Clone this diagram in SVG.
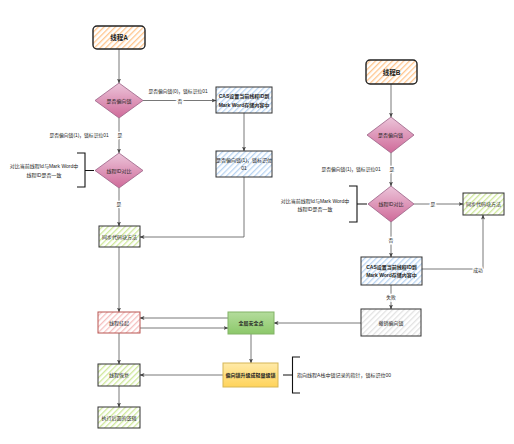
<svg xmlns="http://www.w3.org/2000/svg" width="514" height="444" viewBox="0 0 514 444">
<style>
text{font-family:"Liberation Sans","Noto Sans CJK SC",sans-serif;fill:#222;text-anchor:middle;dominant-baseline:central}
.t{font-size:5px}
.b{font-size:5px;font-weight:bold}
.h{font-size:6.5px;font-weight:bold}
.l{font-size:4.8px}
.lb{font-size:4.8px;stroke:#fff;stroke-width:2.5px;paint-order:stroke}
.c{fill:none;stroke:#555;stroke-width:0.8;marker-end:url(#ar)}
.br{fill:none;stroke:#111;stroke-width:1.1}
.box{stroke:#333;stroke-width:1}
</style>
<defs>
<marker id="ar" markerUnits="userSpaceOnUse" markerWidth="5" markerHeight="5" viewBox="0 0 10 10" refX="9" refY="5" orient="auto"><path d="M0,1 L10,5 L0,9 L2.5,5 Z" fill="#444"/></marker>
<pattern id="hO" patternUnits="userSpaceOnUse" width="4" height="4" patternTransform="rotate(45)"><rect width="4" height="4" fill="#fff"/><rect width="1.3" height="4" fill="#ffc58c"/></pattern>
<pattern id="hB" patternUnits="userSpaceOnUse" width="4" height="4" patternTransform="rotate(45)"><rect width="4" height="4" fill="#fff"/><rect width="1.3" height="4" fill="#b9d4f2"/></pattern>
<pattern id="hG" patternUnits="userSpaceOnUse" width="4" height="4" patternTransform="rotate(45)"><rect width="4" height="4" fill="#fff"/><rect width="1.3" height="4" fill="#cfe89a"/></pattern>
<pattern id="hR" patternUnits="userSpaceOnUse" width="4" height="4" patternTransform="rotate(45)"><rect width="4" height="4" fill="#fff"/><rect width="1.3" height="4" fill="#f6c0c0"/></pattern>
<pattern id="hK" patternUnits="userSpaceOnUse" width="4" height="4" patternTransform="rotate(45)"><rect width="4" height="4" fill="#fff"/><rect width="1.3" height="4" fill="#e2e2e2"/></pattern>
<linearGradient id="gP" x1="0" y1="0" x2="0" y2="1"><stop offset="0" stop-color="#ecc5da"/><stop offset="1" stop-color="#cf6a99"/></linearGradient>
<linearGradient id="gG" x1="0" y1="0" x2="0" y2="1"><stop offset="0" stop-color="#b4dc9c"/><stop offset="1" stop-color="#8cc86a"/></linearGradient>
<linearGradient id="gY" x1="0" y1="0" x2="0" y2="1"><stop offset="0" stop-color="#ffeaa8"/><stop offset="1" stop-color="#ffd35a"/></linearGradient>
</defs>
<rect width="514" height="444" fill="#fff"/>

<g id="connectors">
<path class="c" d="M119,49 V83"/>
<path class="c" d="M143,100.5 H216"/>
<path class="c" d="M244,113 V151"/>
<path class="c" d="M244,177 V237 H140"/>
<path class="c" d="M119,118 V153"/>
<path class="c" d="M119,188 V226"/>
<path class="c" d="M119,247 V312"/>
<path class="c" d="M228,318 H140"/>
<path class="c" d="M140,328 H228"/>
<path class="c" d="M361,323 H274"/>
<path class="c" d="M119,333 V364"/>
<path class="c" d="M251,334 V363"/>
<path class="c" d="M223,375 H140"/>
<path class="c" d="M119,386 V407"/>
<path class="c" d="M391,84 V117"/>
<path class="c" d="M391,153 V186"/>
<path class="c" d="M414,204 H463"/>
<path class="c" d="M391,222 V257"/>
<path class="c" d="M422,269 H483 V215"/>
<path class="c" d="M391,285 V309"/>
<text class="l" x="178" y="91.5">是否偏向锁(0)，锁标识位01</text>
<text class="lb" x="180" y="101">否</text>
<text class="l" x="79" y="135.5">是否偏向锁(1)，锁标识位01</text>
<text class="lb" x="120" y="135.5">是</text>
<text class="lb" x="119" y="204">是</text>
<text class="l" x="351" y="169.5">是否偏向锁(1)，锁标识位01</text>
<text class="lb" x="392" y="169.5">是</text>
<text class="lb" x="433" y="204">是</text>
<text class="lb" x="391" y="240">否</text>
<text class="lb" x="478" y="270.5">成功</text>
<text class="lb" x="391" y="297">失败</text>
</g>

<g id="threadA"><rect x="93" y="26" width="52" height="23" rx="4" fill="url(#hO)" stroke="#222" stroke-width="1.4"/><text class="h" x="119" y="37.5">线程A</text></g>
<g id="biasA"><polygon points="119,83 143,100.5 119,118 95,100.5" fill="url(#gP)" stroke="#996185" stroke-width="0.8"/><text class="t" x="119" y="100.5">是否偏向锁</text></g>
<g id="casA"><rect class="box" x="216" y="87" width="56" height="26" fill="url(#hB)"/><text class="b" x="244" y="96">CAS设置当前线程ID到</text><text class="b" x="244" y="104.5">Mark Word存储内容中</text></g>
<g id="biasSetA"><rect class="box" x="216" y="151" width="56" height="26" fill="url(#hB)"/><text class="t" x="244" y="160">是否偏向锁(1)，锁标识位</text><text class="t" x="244" y="168">01</text></g>
<g id="cmpA"><polygon points="119,153 143,170.5 119,188 95,170.5" fill="url(#gP)" stroke="#996185" stroke-width="0.8"/><text class="t" x="119" y="170.5">线程ID对比</text></g>
<g id="noteA"><path class="br" d="M77,153 H85 V187 H77 M85,170.5 H94"/><text class="t" x="44" y="166">对比当前线程Id与Mark Word中</text><text class="t" x="44" y="174.5">线程ID是否一致</text></g>
<g id="syncA"><rect class="box" x="99" y="226" width="41" height="21" fill="url(#hG)" stroke-width="1.3"/><text class="t" x="119.5" y="236.5">同步代码块方法</text></g>
<g id="suspend"><rect x="98" y="312" width="42" height="21" fill="url(#hR)" stroke="#b85450" stroke-width="1"/><text class="t" x="119" y="322.5">线程挂起</text></g>
<g id="safepoint"><rect x="228" y="312" width="46" height="22" fill="url(#gG)" stroke="#82b366" stroke-width="1"/><text class="b" x="251" y="323">全局安全点</text></g>
<g id="resume"><rect class="box" x="98" y="364" width="42" height="22" fill="url(#hG)" stroke-width="1.3"/><text class="t" x="119" y="375">线程恢复</text></g>
<g id="upgrade"><rect x="223" y="363" width="55" height="24" fill="url(#gY)" stroke="#d6b656" stroke-width="1"/><text class="b" x="250.5" y="375">偏向锁升级成轻量级锁</text></g>
<g id="noteUp"><path class="br" d="M283,375 H292.5 M300,357 H292.5 V393 H300"/><text class="t" x="344" y="375">指向线程A栈中锁记录的指针，锁标识位00</text></g>
<g id="after"><rect class="box" x="98" y="407" width="42" height="21" fill="url(#hG)" stroke-width="1.3"/><text class="t" x="119" y="417.5">执行后面的逻辑</text></g>
<g id="threadB"><rect x="366" y="60" width="51" height="24" rx="4" fill="url(#hO)" stroke="#222" stroke-width="1.4"/><text class="h" x="391.5" y="72">线程B</text></g>
<g id="biasB"><polygon points="391,117 414,135 391,153 367,135" fill="url(#gP)" stroke="#996185" stroke-width="0.8"/><text class="t" x="390.5" y="135">是否偏向锁</text></g>
<g id="cmpB"><polygon points="391,186 414,204 391,222 368,204" fill="url(#gP)" stroke="#996185" stroke-width="0.8"/><text class="t" x="391" y="204">线程ID对比</text></g>
<g id="noteB"><path class="br" d="M349,186 H357 V222 H349 M357,204 H367"/><text class="t" x="315" y="201">对比当前线程Id与Mark Word中</text><text class="t" x="315" y="209">线程ID是否一致</text></g>
<g id="syncB"><rect class="box" x="463" y="193" width="41" height="22" fill="url(#hG)" stroke-width="1.3"/><text class="t" x="483.5" y="204">同步代码块方法</text></g>
<g id="casB"><rect class="box" x="361" y="257" width="61" height="28" fill="url(#hB)" stroke-width="1.3"/><text class="b" x="391.5" y="266.5">CAS设置当前线程ID到</text><text class="b" x="391.5" y="275">Mark Word存储内容中</text></g>
<g id="revoke"><rect class="box" x="361" y="309" width="60" height="27" fill="url(#hK)"/><text class="t" x="391" y="322.5">撤销偏向锁</text></g>
</svg>
